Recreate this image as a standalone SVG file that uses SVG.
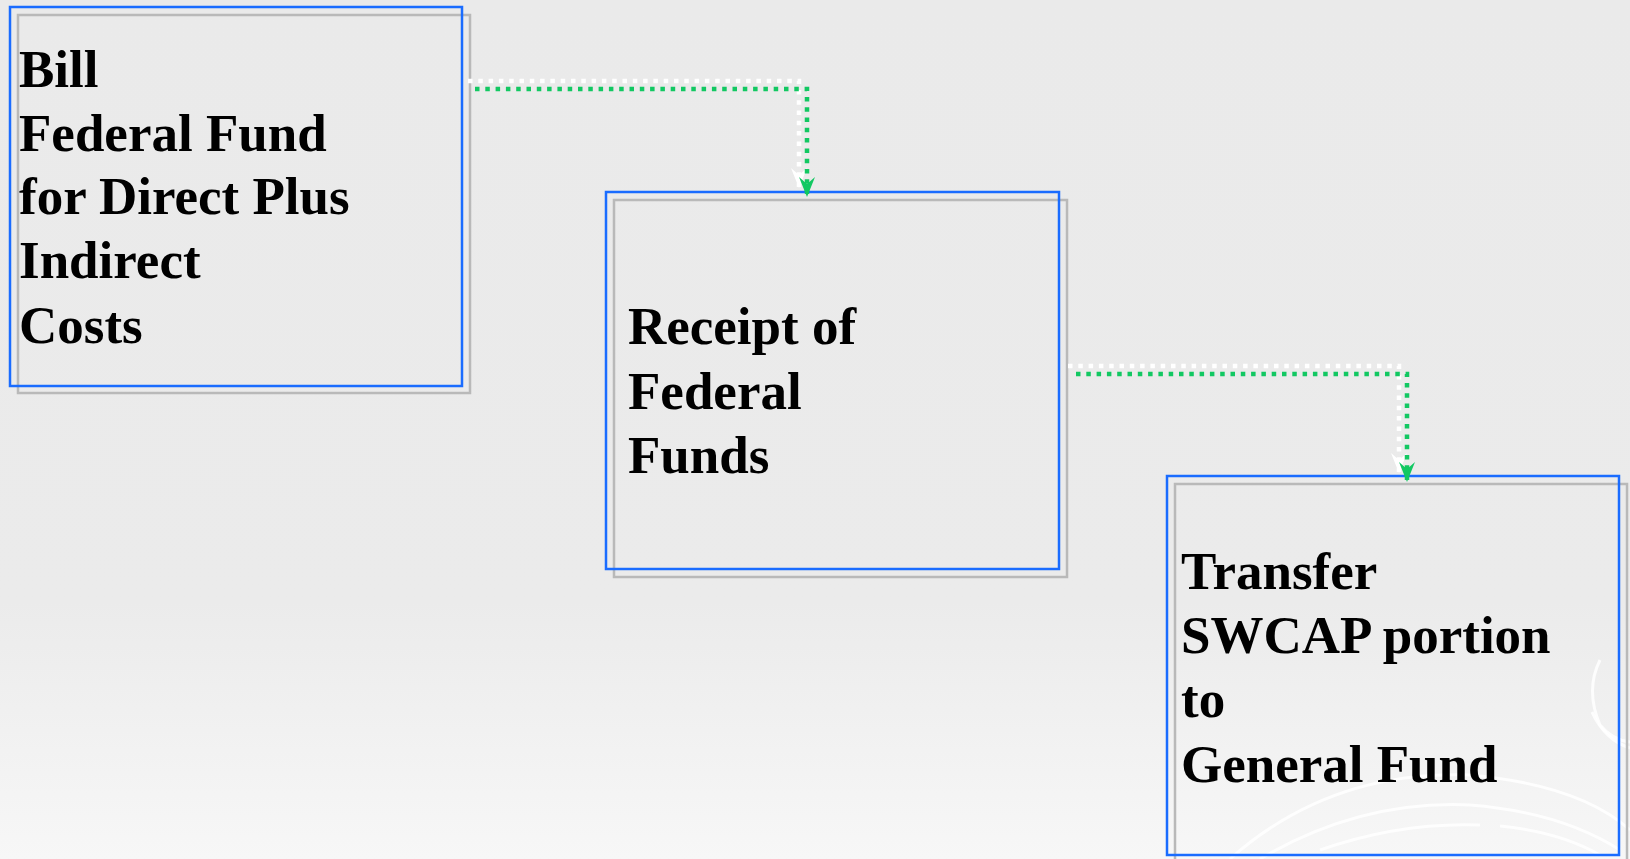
<svg xmlns="http://www.w3.org/2000/svg" width="1630" height="859" viewBox="0 0 1630 859">
  <style>
    .shadow { fill: none; stroke: #b9b9b9; stroke-width: 2.5; }
    .frame { fill: none; stroke: #1a6cff; stroke-width: 2.5; }
    .label { font-family: "Liberation Serif", "Times New Roman", serif; font-weight: bold; font-size: 53px; fill: #000; }
    .wline { fill: none; stroke: #ffffff; stroke-width: 4.5; stroke-dasharray: 4.5 5.8; }
    .gline { fill: none; stroke: #12c862; stroke-width: 4.5; stroke-dasharray: 4.5 5.8; }
    .swirl { fill: none; stroke: #ffffff; stroke-width: 3; opacity: 0.85; }
  </style>
  <defs>
    <linearGradient id="bg" x1="0" y1="0" x2="0" y2="1">
      <stop offset="0" stop-color="#eaeaea"/>
      <stop offset="0.7" stop-color="#ebebeb"/>
      <stop offset="1" stop-color="#f7f7f7"/>
    </linearGradient>
    <marker id="arrG" markerUnits="userSpaceOnUse" markerWidth="22" markerHeight="16" refX="20" refY="8" orient="auto">
      <path d="M0,0 L20,8 L0,16 L7,8 z" fill="#12c862"/>
    </marker>
    <marker id="arrW" markerUnits="userSpaceOnUse" markerWidth="22" markerHeight="16" refX="20" refY="8" orient="auto">
      <path d="M0,0 L20,8 L0,16 L7,8 z" fill="#ffffff"/>
    </marker>
  </defs>
  <rect x="0" y="0" width="1630" height="859" fill="url(#bg)"/>
  <g id="background-swirl">
    <path class="swirl" d="M1230,859 Q1330,770 1470,775 Q1580,785 1630,830"/>
    <path class="swirl" d="M1260,859 Q1360,800 1470,805 Q1560,812 1620,850"/>
    <path class="swirl" d="M1320,850 Q1400,822 1480,825"/>
    <path class="swirl" d="M1500,826 Q1560,832 1600,855"/>
    <path class="swirl" d="M1600,660 Q1585,690 1600,725 Q1612,740 1630,742"/>
    <path class="swirl" d="M1592,712 Q1605,740 1630,748"/>
  </g>
  <g id="node-bill">
    <rect class="shadow" x="18" y="15" width="452" height="378"/>
    <rect class="frame" x="10" y="7" width="452" height="379"/>
    <text class="label" x="19" y="87">Bill</text>
    <text class="label" x="19" y="151">Federal Fund</text>
    <text class="label" x="19" y="214">for Direct Plus</text>
    <text class="label" x="19" y="278">Indirect</text>
    <text class="label" x="19" y="343">Costs</text>
  </g>
  <g id="node-receipt">
    <rect class="shadow" x="614" y="200" width="453" height="377"/>
    <rect class="frame" x="606" y="192" width="453" height="377"/>
    <text class="label" x="628" y="344">Receipt of</text>
    <text class="label" x="628" y="409">Federal</text>
    <text class="label" x="628" y="473">Funds</text>
  </g>
  <g id="node-transfer">
    <rect class="shadow" x="1175" y="484" width="452" height="379"/>
    <rect class="frame" x="1167" y="476" width="452" height="379"/>
    <text class="label" x="1181" y="589">Transfer</text>
    <text class="label" x="1181" y="653">SWCAP portion</text>
    <text class="label" x="1181" y="717">to</text>
    <text class="label" x="1181" y="782">General Fund</text>
  </g>
  <g id="connectors">
    <path class="wline" d="M468,81 H799 V188" marker-end="url(#arrW)"/>
    <path class="gline" d="M475,89 H807 V197" marker-end="url(#arrG)"/>
    <path class="wline" d="M1068,366 H1399 V473" marker-end="url(#arrW)"/>
    <path class="gline" d="M1076,374 H1407 V482" marker-end="url(#arrG)"/>
  </g>
</svg>
